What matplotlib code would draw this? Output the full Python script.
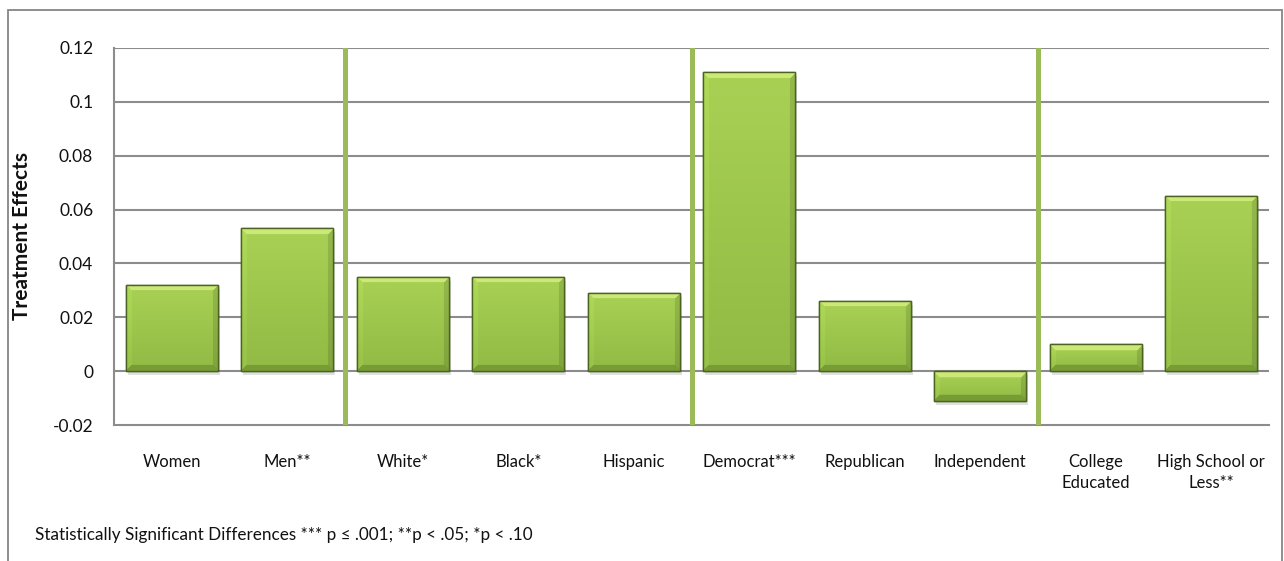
import matplotlib
matplotlib.use('Agg')
import matplotlib.pyplot as plt
import numpy as np
from matplotlib.patches import Rectangle
import matplotlib.transforms as mtransforms

plt.rcParams['font.family'] = ['Lato', 'DejaVu Sans']

# data
categories = ['Women', 'Men**', 'White*', 'Black*', 'Hispanic', 'Democrat***',
              'Republican', 'Independent', 'College\nEducated', 'High School or\nLess**']
effects = [0.032, 0.053, 0.035, 0.035, 0.029, 0.111, 0.026, -0.011, 0.010, 0.065]
group_sizes = [2, 3, 3, 2]
yticks = [-0.02, 0, 0.02, 0.04, 0.06, 0.08, 0.1, 0.12]
ytick_labels = ['-0.02', '0', '0.02', '0.04', '0.06', '0.08', '0.1', '0.12']
note = 'Statistically Significant Differences *** p \u2264 .001; **p < .05; *p < .10'

W, H = 1284, 561
fig = plt.figure(figsize=(W / 100, H / 100), dpi=100)

# outer chart frame (bottom edge cut off in the original)
fig.patches.append(Rectangle((8 / W, -0.02), 1275 / W - 0.0005, 1.02 - 10 / H,
                             transform=fig.transFigure, fill=False,
                             edgecolor='#868686', linewidth=1.3))

ax = fig.add_axes([114 / W, 1 - 425 / H, 1155 / W, 377 / H])
x = np.arange(len(categories))
ax.set_xlim(-0.5, len(categories) - 0.5)
ax.set_ylim(-0.02, 0.12)

for y in yticks[1:]:
    ax.axhline(y, color='#8c8c8c', lw=1.5, zorder=1)

for s in ['top', 'right']:
    ax.spines[s].set_visible(False)
for s in ['left', 'bottom']:
    ax.spines[s].set_color('#8c8c8c')
    ax.spines[s].set_linewidth(1.5)

ax.set_yticks(yticks)
ax.set_yticklabels(ytick_labels)
ax.set_xticks(x)
ax.set_xticklabels(categories, linespacing=1.35)
ax.tick_params(axis='y', length=0, pad=15, labelsize=12.5, labelcolor='#111111')
ax.tick_params(axis='x', length=0, pad=21, labelsize=12, labelcolor='#111111')

# shadows under bars
shadow_tr = mtransforms.offset_copy(ax.transData, fig=fig, x=2, y=-4, units='dots')
ax.bar(x, effects, width=0.8, color='#000000', alpha=0.12, transform=shadow_tr,
       zorder=2, linewidth=0)

bars = ax.bar(x, effects, width=0.8, color='#99bf4a', edgecolor='#4a6320',
              linewidth=1.0, zorder=3)

fig.canvas.draw()
light = np.array([0.80, 0.91, 0.47])
mid_top = np.array([0.66, 0.82, 0.33])
mid_bot = np.array([0.57, 0.73, 0.27])
dark = np.array([0.47, 0.61, 0.21])
for b in bars:
    x0, y0 = b.get_x(), b.get_y()
    w, h = b.get_width(), b.get_height()
    p0 = ax.transData.transform((x0, min(y0, y0 + h)))
    p1 = ax.transData.transform((x0 + w, max(y0, y0 + h)))
    wp, hp = int(max(p1[0] - p0[0], 2)), int(max(p1[1] - p0[1], 2))
    yy, xx = np.mgrid[0:hp, 0:wp]
    t = yy / max(hp - 1, 1)
    img = mid_top[None, None, :] * (1 - t[..., None]) + mid_bot[None, None, :] * t[..., None]
    bev = 6
    top_band = (yy < bev) & (xx >= yy) & (wp - 1 - xx >= yy)
    bot_band = (hp - 1 - yy < bev) & (xx >= hp - 1 - yy) & (wp - 1 - xx >= hp - 1 - yy)
    left_band = (xx < bev) & ~top_band & ~bot_band
    right_band = (wp - 1 - xx < bev) & ~top_band & ~bot_band
    img[top_band] = light
    img[bot_band] = dark
    img[left_band] = img[left_band] * 1.04
    img[right_band] = img[right_band] * 0.88
    img = np.clip(img, 0, 1)
    ylo, yhi = min(y0, y0 + h), max(y0, y0 + h)
    im = ax.imshow(img, extent=(x0, x0 + w, ylo, yhi), origin='upper',
                   aspect='auto', interpolation='bilinear', zorder=3.5)
    im.set_clip_path(b)
    ax.add_patch(Rectangle((x0, y0), w, h, fill=False, edgecolor='#4a6320',
                           linewidth=1.0, zorder=4))
ax.set_xlim(-0.5, len(categories) - 0.5)
ax.set_ylim(-0.02, 0.12)

# group dividers
for pos in np.cumsum(group_sizes)[:-1] - 0.5:
    ax.axvline(pos, color='#9bbb59', lw=3.6, zorder=5)

fig.text(22 / W, 1 - 236 / H, 'Treatment Effects', rotation=90, ha='center',
         va='center', fontsize=15, fontweight='bold', color='#111111')
fig.text(35 / W, 1 - 535 / H, note, ha='left', va='center', fontsize=12.3,
         color='#111111')

fig.savefig('out.png', dpi=100)
